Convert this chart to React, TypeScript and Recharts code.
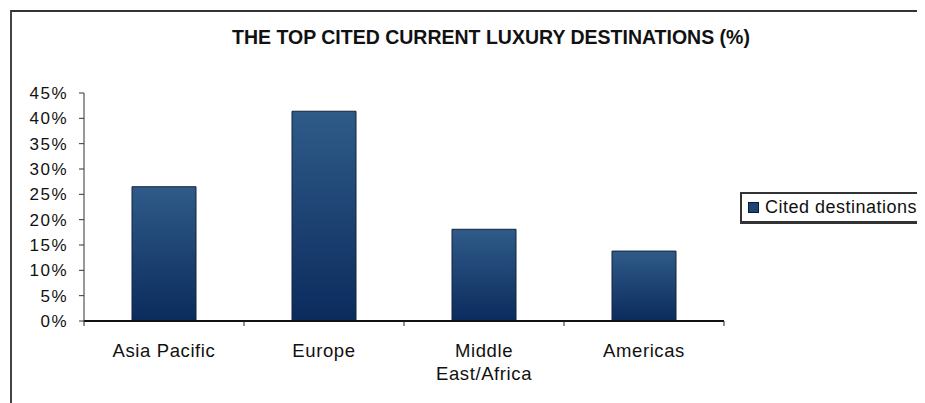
import { Bar, BarChart, Text, XAxis, YAxis } from "recharts";

const regions = ["Asia Pacific", "Europe", "Middle East/Africa", "Americas"];
const cited = [26.5, 41.4, 18.1, 13.8];
const yTicks = [0, 5, 10, 15, 20, 25, 30, 35, 40, 45];

const data = regions.map((name, i) => ({ name, cited: cited[i] }));

const FONT = "'Liberation Sans', Arial, sans-serif";
const LABEL_GAP = 23;

// category label plus the Excel-style tick marks between categories
function CategoryTick(props: any) {
  const { x, y, payload, index, visibleTicksCount } = props;
  const half = payload.offset || 80;
  const axisY = y - LABEL_GAP;
  const last = index === visibleTicksCount - 1;
  return (
    <g>
      <line x1={x - half} x2={x - half} y1={axisY} y2={axisY + 5} stroke="#222" />
      {last && <line x1={x + half} x2={x + half} y1={axisY} y2={axisY + 5} stroke="#222" />}
      <Text
        x={x}
        y={y}
        width={120}
        textAnchor="middle"
        verticalAnchor="start"
        lineHeight={23}
        fontSize={18.5}
        fontFamily={FONT}
        fill="#111"
        style={{ letterSpacing: 0.6 }}
      >
        {payload.value}
      </Text>
    </g>
  );
}

export default function App() {
  return (
    <div style={{ position: "relative", width: 917, height: 395, fontFamily: FONT }}>
      {/* outer frame, only top and left edges are visible */}
      <div
        style={{
          position: "absolute",
          left: 2,
          top: 2,
          width: 915,
          height: 393,
          borderTop: "2px solid #333",
          borderLeft: "2px solid #444",
          boxSizing: "border-box",
        }}
      />
      <div
        style={{
          position: "absolute",
          left: 483,
          top: 18,
          transform: "translateX(-50%)",
          whiteSpace: "nowrap",
          fontSize: 19.5,
          fontWeight: "bold",
          color: "#111",
        }}
      >
        THE TOP CITED CURRENT LUXURY DESTINATIONS (%)
      </div>
      <div style={{ position: "absolute", left: 0, top: 0 }}>
        <BarChart
          width={917}
          height={395}
          data={data}
          margin={{ top: 85, right: 201, bottom: 0, left: 0 }}
          barCategoryGap="30%"
        >
          <defs>
            <linearGradient id="barFill" x1="0" y1="0" x2="0" y2="1">
              <stop offset="0%" stopColor="#2f5b89" />
              <stop offset="100%" stopColor="#0b2b5d" />
            </linearGradient>
          </defs>
          <XAxis
            dataKey="name"
            height={82}
            tickSize={0}
            tickMargin={LABEL_GAP}
            interval={0}
            tick={<CategoryTick />}
            axisLine={{ stroke: "#111", strokeWidth: 2 }}
          />
          <YAxis
            width={76}
            domain={[0, 45]}
            ticks={yTicks}
            interval={0}
            tickFormatter={(v) => `${v}%`}
            tickSize={5}
            tickMargin={11}
            tick={{ fontSize: 17, fill: "#111", fontFamily: FONT, letterSpacing: 1.5 }}
            axisLine={{ stroke: "#333", strokeWidth: 1 }}
            tickLine={{ stroke: "#333" }}
          />
          <Bar
            dataKey="cited"
            name="Cited destinations"
            fill="url(#barFill)"
            stroke="#14233a"
            strokeWidth={1}
            isAnimationActive={false}
          />
        </BarChart>
      </div>
      {/* legend box */}
      <div
        style={{
          position: "absolute",
          left: 732,
          top: 184,
          width: 200,
          height: 27,
          border: "2px solid #333",
          borderBottomWidth: 3,
          display: "flex",
          alignItems: "center",
          fontSize: 18,
          letterSpacing: 0.5,
          color: "#111",
          background: "#fff",
        }}
      >
        <span
          style={{
            display: "inline-block",
            width: 9,
            height: 9,
            background: "#1d4474",
            border: "1px solid #0a1a33",
            marginLeft: 6,
            marginRight: 6,
          }}
        />
        Cited destinations
      </div>
    </div>
  );
}
